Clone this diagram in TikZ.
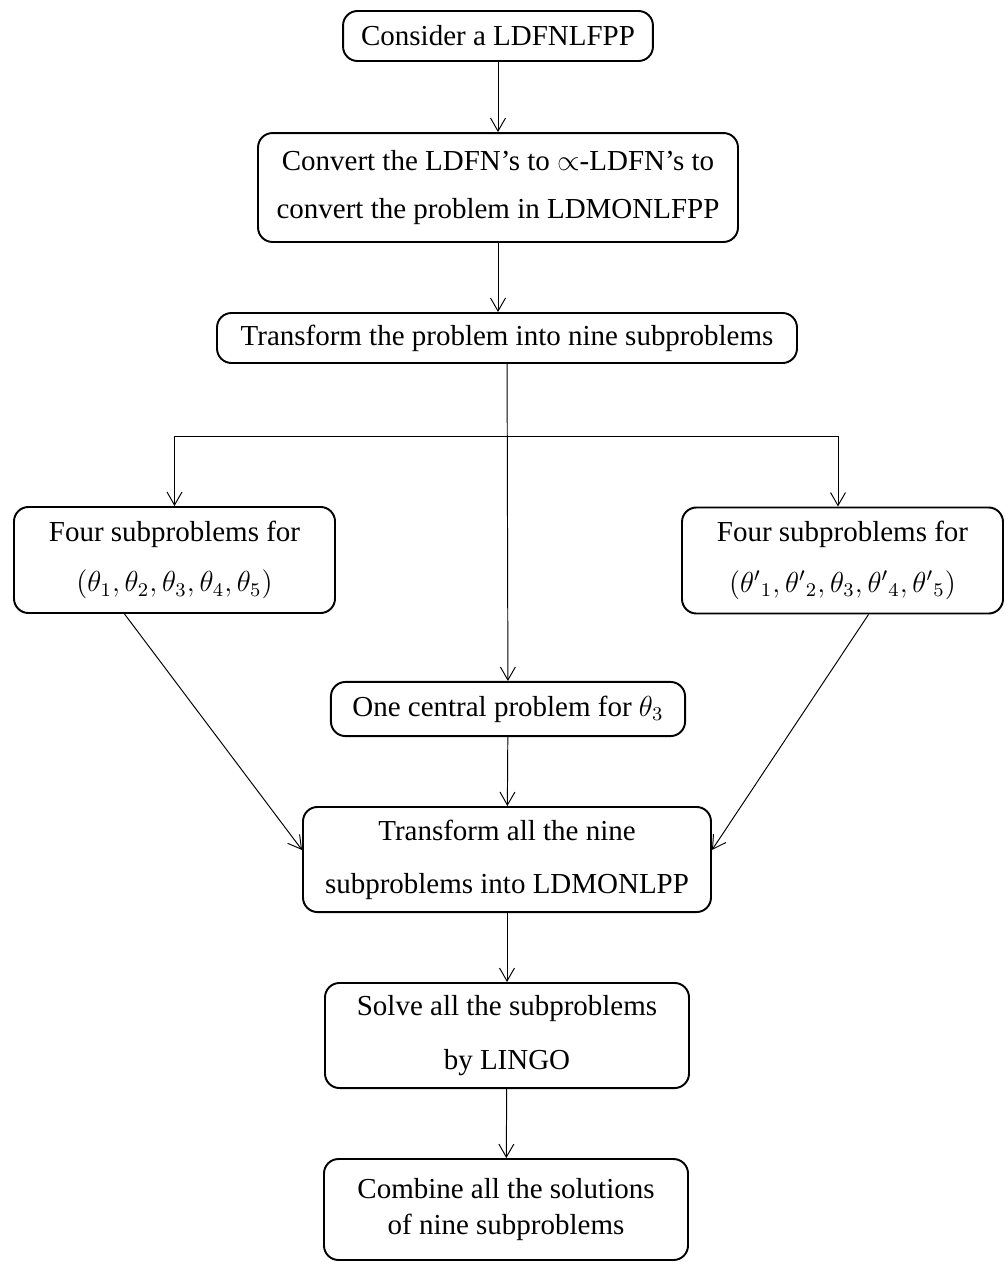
\documentclass[tikz,border=0pt]{standalone}
\usepackage{fontspec}
\setmainfont{Liberation Serif}
\usepackage{amsmath}
\usetikzlibrary{calc,arrows.meta}
\tikzset{>={Straight Barb[length=5.4pt,width=6.2pt]}}
\tikzset{blk/.style={draw,rounded corners=6pt,line width=0.8pt,align=center,inner sep=0pt,font=\fontsize{12}{14}\selectfont}}

\begin{document}
\begin{tikzpicture}[x=0.414pt,y=-0.414pt]
      \useasboundingbox (0,0) rectangle (1007,1262);
      \node[blk,minimum width=128.3pt,minimum height=20.7pt] (cons) at (498,36) {Consider a LDFNLFPP};
      \node[blk,minimum width=198.7pt,minimum height=45.1pt] (conv) at (498,187.5) {Convert the LDFN's to $\propto$-LDFN's to\\[5.5pt]convert the problem in LDMONLFPP};
      \node[blk,minimum width=240.1pt,minimum height=20.7pt] (trans) at (507,338) {Transform the problem into nine subproblems};
      \node[blk,minimum width=132.9pt,minimum height=43.9pt] (fourL) at (174.5,560) {Four subproblems for\\[7pt]$(\theta_1,\theta_2,\theta_3,\theta_4,\theta_5)$};
      \node[blk,minimum width=132.9pt,minimum height=43.9pt] (fourR) at (842.5,560.5) {Four subproblems for\\[7pt]$({\theta'}_1,{\theta'}_2,\theta_3,{\theta'}_4,{\theta'}_5)$};
      \node[blk,minimum width=146.6pt,minimum height=22.4pt] (cent) at (508,709) {One central problem for $\theta_3$};
      \node[blk,minimum width=168.9pt,minimum height=43.5pt] (tall) at (507,859.5) {Transform all the nine\\[8pt]subproblems into LDMONLPP};
      \node[blk,minimum width=150.7pt,minimum height=43.5pt] (solve) at (507,1035.5) {Solve all the subproblems\\[8pt]by LINGO};
      \node[blk,minimum width=150.7pt,minimum height=41.8pt] (comb) at (506,1209.5) {Combine all the solutions\\[1.3pt]of nine subproblems};
      \coordinate (split) at (507,436);
      \draw[->] (cons) -- (conv);
      \draw[->] (conv) -- (conv |- trans.north);
      \draw[->] (trans) -- (cent);
      \draw[->] (split) -| (fourL.north);
      \draw[->] (split) -| ($(fourR.north)+(-4.5,0)$);
      \draw[->] ($(fourL.south)+(-50,0)$) -- ($(tall.west)+(0,-9.5)$);
      \draw[->] ($(fourR.south)+(26,0)$) -- ($(tall.east)+(0,-9.5)$);
      \draw[->] (cent) -- (tall);
      \draw[->] (tall) -- (solve);
      \draw[->] (solve) -- (comb);
    \end{tikzpicture}
\end{document}
